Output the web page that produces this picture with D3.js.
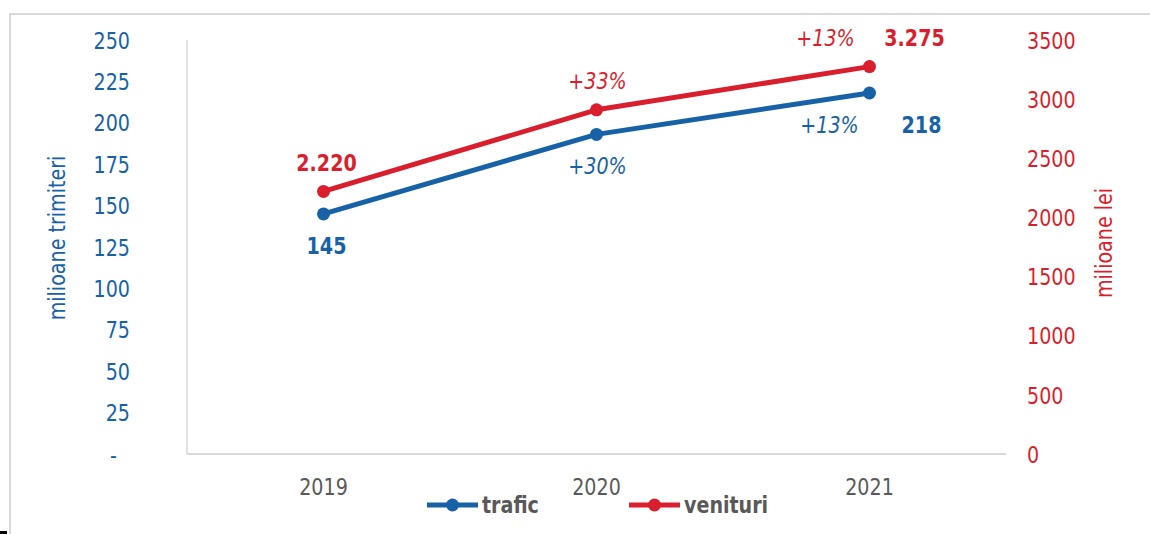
<!DOCTYPE html>
<html><head><meta charset="utf-8">
<script src="https://cdn.jsdelivr.net/npm/d3@7/dist/d3.min.js"></script>
<style>html,body{margin:0;padding:0;background:#fff;}svg{display:block;}</style>
</head><body>
<svg id="c" width="1150" height="534"></svg>
<script>
const categories = ["2019", "2020", "2021"];
const trafic = [145, 193, 218];
const venituri = [2220, 2910, 3275];
const traficLabels = ["145", "", "218"];
const venituriLabels = ["2.220", "", "3.275"];
const traficGrowth = ["", "+30%", "+13%"];
const venituriGrowth = ["", "+33%", "+13%"];
const leftTicks = [0, 25, 50, 75, 100, 125, 150, 175, 200, 225, 250];
const rightTicks = [0, 500, 1000, 1500, 2000, 2500, 3000, 3500];
const seriesNames = ["trafic", "venituri"];

const BLUE = "#1762a7", RED = "#d91f2e", GRAY = "#595959", LINE = "#d9d9d9";
const FONT = "'DejaVu Sans', Verdana, sans-serif";
const FS = 23, SX = 0.83;

const svg = d3.select("#c");
const L = 187, R = 1006, T = 40, B = 454;

const x = d3.scaleBand().domain(categories).range([L, R]);
const yL = d3.scaleLinear().domain([0, 250]).range([B, T]);
const yR = d3.scaleLinear().domain([0, 3500]).range([B, T]);

function txt(parent, px, py, s, o = {}) {
  return parent.append("text")
    .attr("transform", `translate(${px},${py}) rotate(${o.rot || 0}) scale(${SX},1)`)
    .attr("text-anchor", o.anchor || "middle")
    .attr("dominant-baseline", "central")
    .attr("font-family", FONT)
    .attr("font-size", o.size || FS)
    .attr("font-weight", o.bold ? "bold" : "normal")
    .attr("font-style", o.italic ? "italic" : "normal")
    .attr("fill", o.color || GRAY)
    .text(s);
}

// outer frame
svg.append("path").attr("d", "M10,534 L10,14 L1150,14")
  .attr("fill", "none").attr("stroke", LINE).attr("stroke-width", 2);
svg.append("rect").attr("x", 0).attr("y", 531).attr("width", 7).attr("height", 3).attr("fill", "#000");

// plot frame lines
svg.append("line").attr("x1", L).attr("x2", L).attr("y1", T).attr("y2", B)
  .attr("stroke", LINE).attr("stroke-width", 1.5);
svg.append("line").attr("x1", L).attr("x2", R).attr("y1", B).attr("y2", B)
  .attr("stroke", LINE).attr("stroke-width", 2);

// left axis
const gl = svg.append("g").attr("transform", "translate(130,0)")
  .call(d3.axisLeft(yL).tickValues(leftTicks).tickSize(0).tickPadding(0)
    .tickFormat(d => d === 0 ? "-" : d));
gl.select(".domain").remove();
gl.selectAll(".tick text").each(function(d) {
  d3.select(this).attr("x", null).attr("dy", null)
    .attr("transform", `translate(${d === 0 ? -13 : 0},0) scale(${SX},1)`)
    .attr("text-anchor", "end").attr("dominant-baseline", "central")
    .attr("font-family", FONT).attr("font-size", FS).attr("fill", BLUE);
});

// right axis
const gr = svg.append("g").attr("transform", "translate(1027,0)")
  .call(d3.axisRight(yR).tickValues(rightTicks).tickSize(0).tickPadding(0)
    .tickFormat(d => d));
gr.select(".domain").remove();
gr.selectAll(".tick text").each(function() {
  d3.select(this).attr("x", null).attr("dy", null)
    .attr("transform", `scale(${SX},1)`)
    .attr("text-anchor", "start").attr("dominant-baseline", "central")
    .attr("font-family", FONT).attr("font-size", FS).attr("fill", RED);
});

// bottom axis
const gx = svg.append("g").attr("transform", `translate(0,${B})`)
  .call(d3.axisBottom(x).tickSize(0).tickPadding(0));
gx.select(".domain").remove();
gx.selectAll(".tick text").each(function() {
  d3.select(this).attr("y", null).attr("dy", null)
    .attr("transform", `translate(0,33) scale(${SX},1)`)
    .attr("text-anchor", "middle").attr("dominant-baseline", "central")
    .attr("font-family", FONT).attr("font-size", FS).attr("fill", GRAY);
});

// axis titles
txt(svg, 57, 238, "milioane trimiteri", {rot: -90, color: BLUE});
txt(svg, 1104, 243, "milioane lei", {rot: -90, color: RED});

// lines
const cx = d => x(d) + x.bandwidth() / 2;
function series(vals, yS, color) {
  const line = d3.line().x((v, i) => cx(categories[i])).y(v => yS(v));
  svg.append("path").datum(vals).attr("d", line)
    .attr("fill", "none").attr("stroke", color).attr("stroke-width", 5)
    .attr("stroke-linejoin", "round");
  svg.selectAll(null).data(vals).enter().append("circle")
    .attr("cx", (v, i) => cx(categories[i])).attr("cy", v => yS(v))
    .attr("r", 6.5).attr("fill", color);
}
series(venituri, yR, RED);
series(trafic, yL, BLUE);

// data labels
const off = {
  trafVal: [[3, 32], null, [52, 32]],
  venVal: [[3, -29], null, [45, -29]],
  trafG: [null, [1, 31], [-40, 32]],
  venG: [null, [1, -29], [-44, -29]]
};
categories.forEach((c, i) => {
  const px = cx(c);
  if (traficLabels[i]) txt(svg, px + off.trafVal[i][0], yL(trafic[i]) + off.trafVal[i][1], traficLabels[i], {bold: true, color: BLUE});
  if (venituriLabels[i]) txt(svg, px + off.venVal[i][0], yR(venituri[i]) + off.venVal[i][1], venituriLabels[i], {bold: true, color: RED});
  if (traficGrowth[i]) txt(svg, px + off.trafG[i][0], yL(trafic[i]) + off.trafG[i][1], traficGrowth[i], {italic: true, color: BLUE});
  if (venituriGrowth[i]) txt(svg, px + off.venG[i][0], yR(venituri[i]) + off.venG[i][1], venituriGrowth[i], {italic: true, color: RED});
});

// legend
const legend = [{name: seriesNames[0], color: BLUE, x: 427}, {name: seriesNames[1], color: RED, x: 629}];
const LY = 505;
legend.forEach(l => {
  svg.append("line").attr("x1", l.x).attr("x2", l.x + 51).attr("y1", LY).attr("y2", LY)
    .attr("stroke", l.color).attr("stroke-width", 5);
  svg.append("circle").attr("cx", l.x + 25.5).attr("cy", LY).attr("r", 6.5).attr("fill", l.color);
  txt(svg, l.x + 55, LY, l.name, {anchor: "start", bold: true, color: GRAY});
});
</script>
</body></html>
